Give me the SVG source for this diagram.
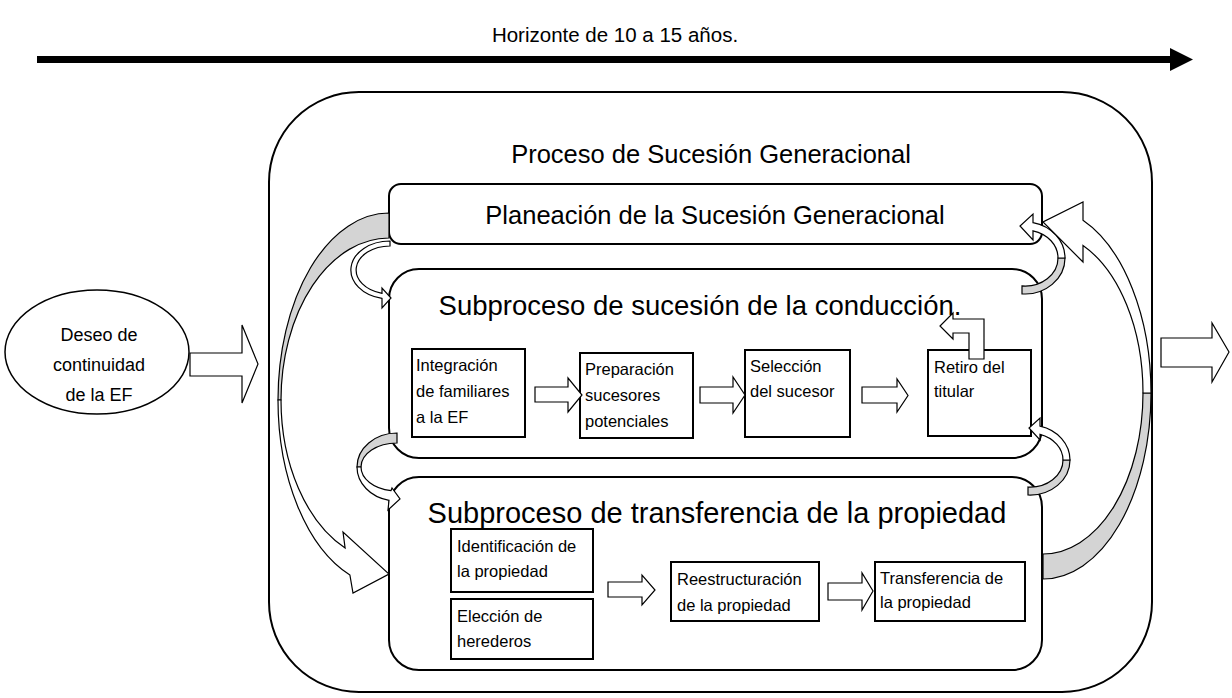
<svg xmlns="http://www.w3.org/2000/svg" width="1232" height="698" viewBox="0 0 1232 698">
<style>
text{font-family:"Liberation Sans",Arial,sans-serif;fill:#000}
.frame{fill:#fff;stroke:#000;stroke-width:2}
.box{fill:#fff;stroke:#000;stroke-width:2}
.sm{font-size:16.5px}
.arw{fill:#fff;stroke:#000;stroke-width:1.2;stroke-linejoin:miter}
.back{fill:#d4d4d4;stroke:#000;stroke-width:1.2}
</style>
<rect width="1232" height="698" fill="#fff"/>

<g id="timeline">
<text x="615" y="42" font-size="20.5" text-anchor="middle">Horizonte de 10 a 15 años.</text>
<rect x="37" y="56" width="1135" height="7" fill="#000"/>
<polygon points="1170,48 1193,59.5 1170,71" fill="#000"/>
</g>

<g id="proceso">
<rect class="frame" x="269" y="92" width="883" height="600" rx="90" ry="90"/>
<text x="711" y="163" font-size="25.5" text-anchor="middle">Proceso de Sucesión Generacional</text>
</g>

<g id="deseo">
<ellipse cx="97" cy="352" rx="92" ry="62" fill="#fff" stroke="#000" stroke-width="1.5"/>
<text x="99" y="341" font-size="18" text-anchor="middle">Deseo de</text>
<text x="99" y="371" font-size="18" text-anchor="middle">continuidad</text>
<text x="99" y="401" font-size="18" text-anchor="middle">de la EF</text>
</g>

<g id="planeacion">
<rect class="box" x="389" y="184" width="653" height="60" rx="12" ry="12"/>
<text x="715" y="224" font-size="25.5" text-anchor="middle">Planeación de la Sucesión Generacional</text>
</g>

<g id="conduccion">
<rect class="box" x="389" y="269" width="653" height="189" rx="30" ry="30"/>
<text x="700" y="315" font-size="27.5" text-anchor="middle">Subproceso de sucesión de la conducción.</text>
</g>

<g id="transferencia">
<rect class="box" x="389" y="477" width="653" height="193" rx="30" ry="30"/>
<text x="717" y="523" font-size="29" text-anchor="middle">Subproceso de transferencia de la propiedad</text>
</g>

<g id="integracion">
<rect class="box" x="412" y="349" width="113" height="88"/>
<text class="sm" x="416" y="371">Integración</text>
<text class="sm" x="416" y="397">de familiares</text>
<text class="sm" x="416" y="423">a la EF</text>
</g>

<g id="preparacion">
<rect class="box" x="580" y="353" width="113" height="85"/>
<text class="sm" x="585" y="375">Preparación</text>
<text class="sm" x="585" y="401">sucesores</text>
<text class="sm" x="585" y="427">potenciales</text>
</g>

<g id="seleccion">
<rect class="box" x="745" y="350" width="105" height="87"/>
<text class="sm" x="750" y="372">Selección</text>
<text class="sm" x="750" y="397">del sucesor</text>
</g>

<g id="retiro">
<rect class="box" x="928" y="350" width="103" height="86"/>
<text class="sm" x="934" y="373">Retiro del</text>
<text class="sm" x="934" y="397">titular</text>
</g>

<g id="identificacion">
<rect class="box" x="451" y="529" width="142" height="63"/>
<text class="sm" x="457" y="552">Identificación de</text>
<text class="sm" x="457" y="577">la propiedad</text>
</g>

<g id="eleccion">
<rect class="box" x="451" y="599" width="142" height="60"/>
<text class="sm" x="457" y="622">Elección de</text>
<text class="sm" x="457" y="647">herederos</text>
</g>

<g id="reestructuracion">
<rect class="box" x="671" y="562" width="148" height="59"/>
<text class="sm" x="677" y="585">Reestructuración</text>
<text class="sm" x="677" y="611">de la propiedad</text>
</g>

<g id="transferencia-propiedad">
<rect class="box" x="875" y="562" width="150" height="59"/>
<text class="sm" x="880" y="584">Transferencia de</text>
<text class="sm" x="880" y="608">la propiedad</text>
</g>

<g id="connectors">
<polygon class="arw" points="190,353 242,353 242,325 258,364 242,403 242,376 190,376"/>
<polygon class="arw" points="1161,338 1212,338 1212,323 1229,352 1212,382 1212,367 1161,367"/>
<polygon class="arw" points="535,387 568,387 568,378 582,395 568,412 568,402 535,402"/>
<polygon class="arw" points="700,387 733,387 733,377 745,395 733,413 733,403 700,403"/>
<polygon class="arw" points="862,387 897,387 897,379 908,395.5 897,412 897,403 862,403"/>
<polygon class="arw" points="608,582 642,582 642,575 655,590 642,605 642,597 608,597"/>
<polygon class="arw" points="828,583 862,583 862,573 873,591 862,610 862,600 828,600"/>
<path class="arw" d="M969,359 L969,333 L953,333 L953,339 L940,326 L953,313 L953,319 L984,319 L984,359 Z"/>
<path class="back" d="M389,213 A111,187 0 0 0 278,400 L281,400 A108,162 0 0 1 389,238 Z"/>
<path class="arw" d="M278,400 A111,187 0 0 0 349.9,575 L353,593 L389,574 L343,532 L345.1,548 A108,162 0 0 1 281,400 Z"/>
<path class="arw" d="M390,241 A39,29 0 0 0 382,298.4 L382,308 L391,298 L382,288 L382,293.3 A34,24 0 0 1 390,246 Z"/>
<path class="back" d="M397,433 A40,34 0 0 0 357,467 L361,467 A36,24 0 0 1 397,443 Z"/>
<path class="arw" d="M357,467 A40,34 0 0 0 389,500.3 L388,510 L400,499 L392,488 L391,490.7 A36,24 0 0 1 361,467 Z"/>
<path class="back" d="M1065,258 A40,36 0 0 1 1022,293.9 L1022,285.9 A33,28 0 0 0 1058,258 Z"/>
<path class="arw" d="M1065,258 A40,36 0 0 0 1033,222.7 L1033,214 L1020,226 L1033,240 L1033,230.8 A33,28 0 0 1 1058,258 Z"/>
<path class="back" d="M1070,460 A40,35 0 0 1 1028,495 L1028,487 A33,27 0 0 0 1063,460 Z"/>
<path class="arw" d="M1070,460 A40,35 0 0 0 1040,426.1 L1040,418 L1029,428 L1040,440 L1040,434.3 A33,27 0 0 1 1063,460 Z"/>
<path class="back" d="M1151,393 A108,186 0 0 1 1043,579 L1043,554 A100,161 0 0 0 1143,393 Z"/>
<path class="arw" d="M1151,393 A108,186 0 0 0 1083,220.3 L1083,202 L1043,222 L1083,262 L1083,245.5 A100,161 0 0 1 1143,393 Z"/>
</g>
</svg>
